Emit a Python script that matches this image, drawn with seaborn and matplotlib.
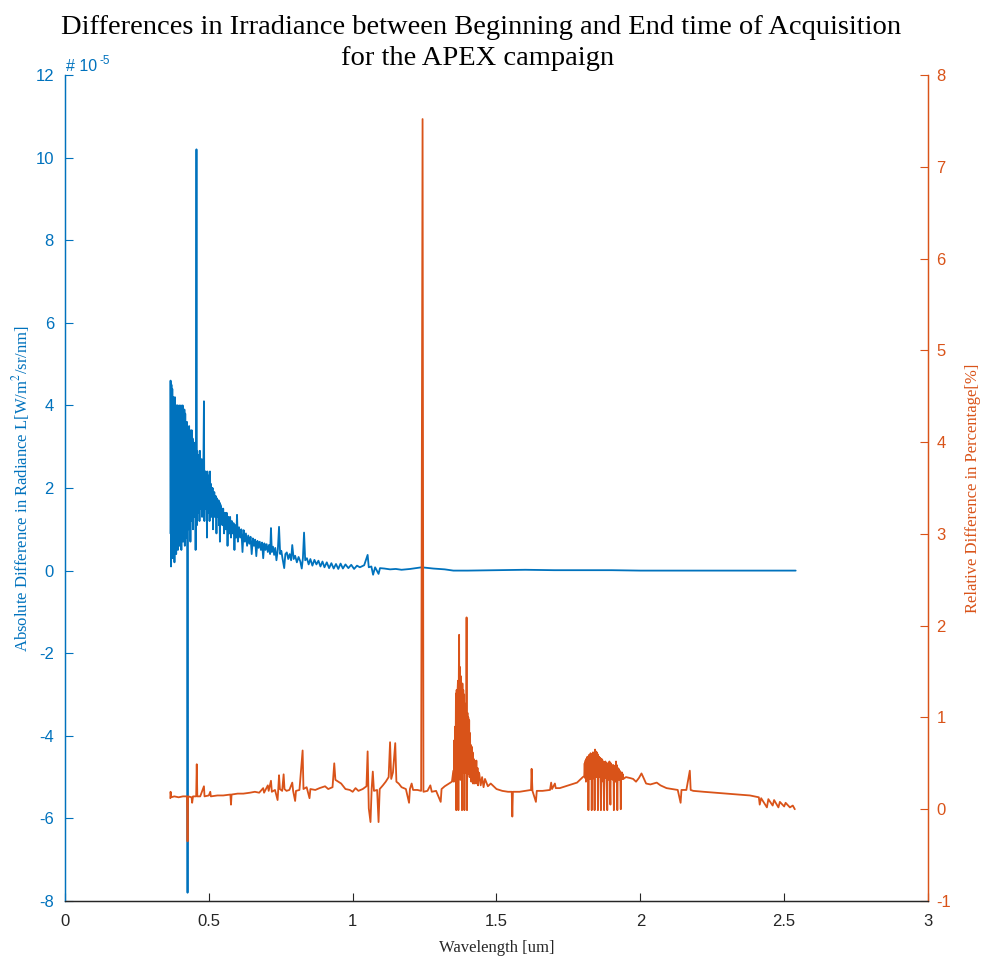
import matplotlib
matplotlib.use("Agg")
import matplotlib.pyplot as plt
import seaborn as sns

# ---------------- data ----------------
# Absolute difference in radiance, in units of 1e-5 W/m^2/sr/nm
abs_wl = [0.3665, 0.3670, 0.3685, 0.3700, 0.3715, 0.3730, 0.3745, 0.3760, 0.3775, 0.3790,
          0.3805, 0.3820, 0.3835, 0.3850, 0.3865, 0.3880, 0.3895, 0.3910, 0.3925, 0.3940,
          0.3955, 0.3970, 0.3985, 0.4000, 0.4015, 0.4030, 0.4045, 0.4060, 0.4075, 0.4090,
          0.4105, 0.4120, 0.4135, 0.4150, 0.4165, 0.4180, 0.4195, 0.4210, 0.4225, 0.4240,
          0.4250, 0.4260, 0.4270, 0.4285, 0.4300, 0.4315, 0.4330, 0.4345, 0.4360, 0.4375,
          0.4390, 0.4405, 0.4420, 0.4435, 0.4450, 0.4465, 0.4480, 0.4495, 0.4510, 0.4525,
          0.4540, 0.4555, 0.4570, 0.4585, 0.4600, 0.4615, 0.4630, 0.4645, 0.4660, 0.4675,
          0.4690, 0.4705, 0.4720, 0.4735, 0.4750, 0.4765, 0.4780, 0.4795, 0.4810, 0.4830,
          0.4845, 0.4860, 0.4875, 0.4890, 0.4905, 0.4920, 0.4935, 0.4950, 0.4965, 0.4980,
          0.4995, 0.5010, 0.5025, 0.5040, 0.5055, 0.5070, 0.5085, 0.5100, 0.5115, 0.5130,
          0.5145, 0.5160, 0.5175, 0.5190, 0.5205, 0.5220, 0.5235, 0.5250, 0.5265, 0.5280,
          0.5295, 0.5310, 0.5325, 0.5340, 0.5355, 0.5370, 0.5385, 0.5400,
          0.544, 0.547, 0.550, 0.553, 0.556, 0.559,
          0.562, 0.565, 0.568, 0.571, 0.574, 0.577, 0.580, 0.583, 0.586, 0.589,
          0.592, 0.595, 0.598, 0.601, 0.605, 0.609, 0.613, 0.617, 0.621, 0.625,
          0.629, 0.633, 0.637, 0.641, 0.645, 0.649, 0.653, 0.657, 0.661, 0.665,
          0.669, 0.673, 0.677, 0.681, 0.685, 0.689, 0.693, 0.697, 0.701, 0.705,
          0.709, 0.713, 0.716, 0.719, 0.723, 0.727, 0.731, 0.735, 0.740, 0.744,
          0.748, 0.752, 0.756, 0.762, 0.766, 0.771, 0.776, 0.781, 0.786, 0.790,
          0.795, 0.800, 0.806, 0.812, 0.818, 0.823, 0.827, 0.831, 0.835, 0.841,
          0.847, 0.853, 0.860, 0.867, 0.874, 0.881, 0.888, 0.895, 0.902, 0.910,
          0.918, 0.926, 0.934, 0.942, 0.950, 0.958, 0.966, 0.975, 0.985, 0.995,
          1.005, 1.015, 1.025, 1.040, 1.052, 1.056, 1.065, 1.071, 1.078, 1.090,
          1.095, 1.110, 1.130, 1.150, 1.170, 1.200, 1.240, 1.280, 1.320, 1.350,
          1.400, 1.500, 1.600, 1.700, 1.800, 1.900, 2.000, 2.200, 2.400, 2.540]
abs_diff_e5 = [0.9, 4.6, 0.1, 4.5, 0.6, 4.4, 0.3, 4.2, 0.8, 4.1,
               0.2, 4.2, 0.7, 3.8, 0.4, 4.0, 0.9, 4.0, 0.5, 3.9,
               1.0, 4.0, 0.6, 3.7, 1.1, 4.0, 0.5, 3.9, 1.0, 4.0,
               0.7, 3.6, 1.2, 3.9, 0.6, 3.8, 1.1, 3.5, 0.8, 3.6,
               0.3, -7.8, 0.9, 3.4, 1.0, 3.5, 1.3, 3.4, 0.7, 3.3,
               1.2, 3.4, 1.4, 3.2, 1.0, 3.1, 1.5, 3.0, 1.3, 3.1,
               0.5, 2.9, 10.2, 1.1, 2.9, 1.4, 2.8, 1.6, 2.8, 1.2,
               2.9, 1.5, 2.6, 1.7, 2.7, 1.3, 2.6, 1.6, 2.5, 4.1,
               1.2, 2.4, 1.5, 2.4, 1.7, 2.3, 0.8, 2.4, 1.4, 2.3,
               1.6, 2.3, 1.2, 2.4, 1.7, 2.1, 1.3, 2.0, 1.6, 2.0,
               1.0, 1.9, 1.5, 1.9, 1.3, 1.8, 1.5, 1.8, 0.9, 1.75,
               1.3, 1.7, 1.4, 1.7, 1.1, 1.65, 0.7, 1.6,
               1.5, 1.1, 1.5, 0.9, 1.4, 1.0,
               1.4, 0.6, 1.3, 0.9, 1.3, 0.8, 1.2, 0.9, 1.15, 0.5,
               1.1, 0.8, 1.35, 0.7, 1.05, 0.8, 1.0, 0.45, 0.98, 0.7,
               0.9, 0.6, 0.85, 0.65, 0.82, 0.4, 0.78, 0.6, 0.75, 0.35,
               0.72, 0.55, 0.7, 0.5, 0.68, 0.3, 0.66, 0.5, 0.64, 0.45,
               0.62, 0.4, 1.03, 0.45, 0.58, 0.38, 0.55, 0.25, 0.52, 1.06,
               0.4, 0.48, 0.3, 0.06, 0.4, 0.44, 0.28, 0.40, 0.25, 0.62,
               0.28, 0.36, 0.2, 0.33, 0.22, 0.05, 0.3, 0.92, 0.25, 0.30,
               0.15, 0.28, 0.12, 0.26, 0.15, 0.24, 0.1, 0.22, 0.08, 0.2,
               0.06, 0.18, 0.05, 0.16, 0.04, 0.17, 0.05, 0.15, 0.06, 0.14,
               0.04, 0.12, 0.08, 0.13, 0.38, 0.08, 0.1, -0.1, 0.08, -0.08,
               0.06, 0.05, 0.03, 0.04, 0.02, 0.04, 0.08, 0.05, 0.03, 0.0,
               0.0, 0.01, 0.02, 0.01, 0.01, 0.01, 0.0, 0.0, 0.0, 0.0]

# Relative difference in percentage
rel_wl = [0.366, 0.367, 0.369, 0.380, 0.395, 0.410, 0.424, 0.426, 0.428, 0.440,
          0.442, 0.445, 0.456, 0.458, 0.460, 0.470, 0.483, 0.485, 0.500, 0.505,
          0.507, 0.530, 0.550, 0.575, 0.577, 0.579, 0.600, 0.620, 0.643, 0.660,
          0.675, 0.689, 0.692, 0.705, 0.708, 0.716, 0.719, 0.730, 0.739, 0.741,
          0.744, 0.747, 0.755, 0.760, 0.763, 0.770, 0.780, 0.790, 0.793, 0.800,
          0.803, 0.815, 0.826, 0.829, 0.840, 0.850, 0.853, 0.870, 0.885, 0.904,
          0.915, 0.930, 0.936, 0.940, 0.950, 0.960, 0.975, 0.990, 1.000, 1.010,
          1.020, 1.035, 1.048, 1.052, 1.056, 1.062, 1.066, 1.070, 1.074, 1.085,
          1.090, 1.094, 1.105, 1.115, 1.125, 1.130, 1.134, 1.140, 1.148, 1.152,
          1.160, 1.170, 1.185, 1.196, 1.199, 1.205, 1.210, 1.225, 1.238, 1.243,
          1.246, 1.260, 1.270, 1.275, 1.290, 1.306, 1.309, 1.320, 1.335, 1.345,
          1.3500, 1.3515, 1.3530, 1.3545, 1.3560, 1.3575, 1.3590, 1.3600, 1.3615, 1.3630,
          1.3645, 1.3660, 1.3675, 1.3690, 1.3700, 1.3715, 1.3730, 1.3745, 1.3760, 1.3775,
          1.3790, 1.3800, 1.3815, 1.3830, 1.3845, 1.3860, 1.3875, 1.3885, 1.3900, 1.3915,
          1.3930, 1.3945, 1.3960, 1.3975, 1.3990, 1.4005, 1.4020, 1.4035, 1.4050, 1.4065,
          1.4080, 1.4095, 1.4110, 1.4125, 1.4140, 1.4155, 1.4170, 1.4185, 1.4200, 1.4215,
          1.4230, 1.4245, 1.4260, 1.4280, 1.4300, 1.4320, 1.4340, 1.4360, 1.4380, 1.4400,
          1.445, 1.450, 1.455, 1.460, 1.470, 1.480, 1.500, 1.520,
          1.540, 1.553, 1.555, 1.557, 1.580, 1.600, 1.620, 1.622, 1.625, 1.637,
          1.640, 1.660, 1.686, 1.690, 1.693, 1.703, 1.706, 1.720, 1.740, 1.760,
          1.780, 1.800,
          1.8050, 1.8065, 1.8080, 1.8095, 1.8110, 1.8125, 1.8140, 1.8155, 1.8170, 1.8185,
          1.8195, 1.8210, 1.8225, 1.8240, 1.8255, 1.8270, 1.8285, 1.8300, 1.8310, 1.8325,
          1.8340, 1.8355, 1.8370, 1.8385, 1.8400, 1.8410, 1.8425, 1.8440, 1.8455, 1.8470,
          1.8485, 1.8500, 1.8515, 1.8525, 1.8540, 1.8555, 1.8570, 1.8585, 1.8600, 1.8615,
          1.8630, 1.8645, 1.8660, 1.8675, 1.8690, 1.8705, 1.8720, 1.8740, 1.8755, 1.8770,
          1.8785, 1.8800, 1.8815, 1.8830, 1.8850, 1.8865, 1.8880, 1.8895, 1.8910, 1.8925,
          1.8940, 1.8960, 1.8975, 1.8990, 1.9005, 1.9020, 1.9035, 1.9050, 1.9065, 1.9080,
          1.9095, 1.9110, 1.9125, 1.9140, 1.9155, 1.9170, 1.9185, 1.9200, 1.9215, 1.9230,
          1.9245, 1.9260, 1.9275, 1.9290, 1.9305, 1.9320, 1.9335, 1.9350, 1.9365, 1.9380,
          1.9395, 1.9410,
          1.950, 1.964, 1.975, 1.985, 1.995, 2.004, 2.010, 2.020, 2.035, 2.057, 2.070,
          2.091, 2.110, 2.130, 2.140, 2.143, 2.160, 2.172, 2.175, 2.184, 2.220,
          2.260, 2.300, 2.340, 2.381, 2.412, 2.415, 2.420, 2.440, 2.445, 2.460,
          2.465, 2.480, 2.485, 2.500, 2.505, 2.520, 2.530, 2.537]
rel_diff_pct = [0.12, 0.19, 0.13, 0.14, 0.13, 0.14, 0.14, -0.35, 0.14, 0.13,
                0.07, 0.14, 0.14, 0.49, 0.14, 0.14, 0.25, 0.14, 0.15, 0.19,
                0.14, 0.15, 0.15, 0.16, 0.05, 0.16, 0.17, 0.17, 0.18, 0.19,
                0.18, 0.23, 0.18, 0.26, 0.20, 0.31, 0.19, 0.21, 0.10, 0.20,
                0.37, 0.22, 0.20, 0.38, 0.22, 0.20, 0.21, 0.29, 0.20, 0.09,
                0.20, 0.21, 0.64, 0.22, 0.24, 0.12, 0.22, 0.21, 0.23, 0.25,
                0.22, 0.24, 0.50, 0.32, 0.30, 0.28, 0.22, 0.21, 0.19, 0.23,
                0.20, 0.22, 0.25, 0.63, 0.01, -0.14, 0.22, 0.41, 0.20, 0.21,
                -0.14, 0.22, 0.26, 0.30, 0.35, 0.73, 0.33, 0.40, 0.72, 0.30,
                0.28, 0.24, 0.22, 0.07, 0.22, 0.28, 0.21, 0.21, 0.20, 7.52,
                0.19, 0.20, 0.26, 0.19, 0.20, 0.08, 0.22, 0.25, 0.28, 0.30,
                0.42, 0.30, 0.75, 0.33, 0.90, 0.30, 1.26, -0.01, 1.30, 0.35,
                1.28, 1.40, -0.01, 1.45, 1.90, 0.40, 1.55, 0.32, 1.45, 0.50,
                1.20, -0.01, 1.37, 0.45, 1.30, 0.40, 1.25, -0.01, 1.11, 0.40,
                1.15, 0.50, 2.09, -0.01, 1.05, 0.38, 1.00, 0.45, 0.97, 0.35,
                0.83, 0.40, 0.70, 0.30, 0.68, 0.35, 0.62, 0.28, 0.55, 0.32,
                0.53, 0.28, 0.50, 0.30, 0.53, 0.28, 0.45, 0.26, 0.40, 0.39,
                0.26, 0.35, 0.24, 0.33, 0.25, 0.28, 0.22, 0.20,
                0.19, 0.19, -0.08, 0.19, 0.19, 0.20, 0.21, 0.44, 0.20, 0.08,
                0.20, 0.20, 0.21, 0.29, 0.22, 0.28, 0.23, 0.23, 0.25, 0.27,
                0.29, 0.35,
                0.36, 0.50, 0.34, 0.53, 0.30, 0.55, 0.32, 0.57, 0.35, 0.56,
                -0.01, 0.59, 0.35, 0.58, 0.33, 0.61, 0.36, 0.60, -0.01, 0.60,
                0.33, 0.62, 0.37, 0.61, 0.34, -0.01, 0.65, 0.38, 0.63, 0.35,
                0.62, 0.37, 0.60, -0.01, 0.58, 0.35, 0.57, 0.38, 0.56, 0.33,
                -0.01, 0.55, 0.30, 0.54, 0.36, 0.52, 0.34, -0.01, 0.51, 0.34,
                0.52, 0.36, 0.50, 0.33, -0.01, 0.50, 0.35, 0.49, 0.32, 0.52,
                0.34, 0.05, 0.50, 0.33, 0.47, 0.35, 0.48, 0.32, 0.48, -0.01,
                0.46, 0.33, 0.47, 0.30, 0.52, 0.34, 0.48, -0.01, 0.45, 0.35,
                0.44, 0.32, 0.42, 0.34, 0.41, 0.00, 0.39, 0.33, 0.40, 0.33,
                0.38, 0.33,
                0.35, 0.34, 0.33, 0.30, 0.34, 0.39, 0.35, 0.28, 0.27, 0.29, 0.26,
                0.23, 0.22, 0.21, 0.07, 0.21, 0.21, 0.42, 0.21, 0.20, 0.19,
                0.18, 0.17, 0.16, 0.15, 0.13, 0.05, 0.12, 0.02, 0.11, 0.04,
                0.10, 0.02, 0.08, 0.03, 0.07, 0.02, 0.04, 0.00]

x_ticks = [0, 0.5, 1, 1.5, 2, 2.5, 3]
x_tick_labels = ["0", "0.5", "1", "1.5", "2", "2.5", "3"]
left_ticks = [-8, -6, -4, -2, 0, 2, 4, 6, 8, 10, 12]
right_ticks = [-1, 0, 1, 2, 3, 4, 5, 6, 7, 8]

title_line1 = "Differences in Irradiance between Beginning and End time of Acquisition"
title_line2 = "for the APEX campaign"
xlabel_text = "Wavelength [um]"
left_label = r"Absolute Difference in Radiance L[W/m$^{2}$/sr/nm]"
right_label = "Relative Difference in Percentage[%]"

# ---------------- style ----------------
sns.set_style("white")
plt.rcParams["font.family"] = ["Liberation Sans", "DejaVu Sans"]
plt.rcParams["mathtext.fontset"] = "stix"
plt.rcParams["axes.unicode_minus"] = False
plt.rcParams["path.simplify"] = False

BLUE = "#0072BD"
ORANGE = "#D95319"
DARK = "#262626"
SERIF = ["Liberation Serif", "DejaVu Serif"]

W, H = 983, 957
fig = plt.figure(figsize=(W / 100, H / 100), dpi=100)
ax = fig.add_axes([65 / W, 1 - 901 / H, (928 - 65) / W, (901 - 75) / H])
ax2 = ax.twinx()

sns.lineplot(x=abs_wl, y=abs_diff_e5, ax=ax, color=BLUE, linewidth=1.3,
             sort=False, estimator=None)
sns.lineplot(x=rel_wl, y=rel_diff_pct, ax=ax2, color=ORANGE, linewidth=1.3,
             sort=False, estimator=None)

ax.set_xlim(0, 3)
ax.set_ylim(-8, 12)
ax2.set_ylim(-1, 8)

ax.set_xticks(x_ticks)
ax.set_xticklabels(x_tick_labels)
ax.set_yticks(left_ticks)
ax.set_yticklabels([str(v) for v in left_ticks])
ax2.set_yticks(right_ticks)
ax2.set_yticklabels([str(v) for v in right_ticks])

for a in (ax, ax2):
    a.spines["top"].set_visible(False)
    a.spines["bottom"].set_color(DARK)
    a.spines["left"].set_color(BLUE)
    a.spines["right"].set_color(ORANGE)
    for s in a.spines.values():
        s.set_linewidth(0.9)

ax.tick_params(axis="x", direction="in", length=6, width=0.8, colors=DARK,
               labelsize=12, pad=9, bottom=True)
ax.tick_params(axis="y", direction="in", length=6, width=0.8, colors=BLUE,
               labelsize=12, pad=8, left=True)
ax2.tick_params(axis="y", direction="in", length=6, width=0.8, colors=ORANGE,
                labelsize=12, pad=6, right=True)

ax.set_xlabel(xlabel_text, family=SERIF, fontsize=12, color=DARK, labelpad=8)
ax.set_ylabel(left_label, family=SERIF, fontsize=12, color=BLUE, labelpad=2)
ax2.set_ylabel(right_label, family=SERIF, fontsize=12, color=ORANGE, labelpad=10)

fig.text(481 / W, 1 - 34 / H, title_line1, family=SERIF, fontsize=20.5,
         color="black", ha="center", va="baseline")
fig.text(478 / W, 1 - 65 / H, title_line2, family=SERIF, fontsize=20.5,
         color="black", ha="center", va="baseline")

fig.text(66 / W, 1 - 71 / H, "# 10", fontsize=11.5, color=BLUE, ha="left",
         va="baseline")
fig.text(100 / W, 1 - 64 / H, "-5", fontsize=8.5, color=BLUE, ha="left",
         va="baseline")

fig.savefig("out.png", dpi=100)
